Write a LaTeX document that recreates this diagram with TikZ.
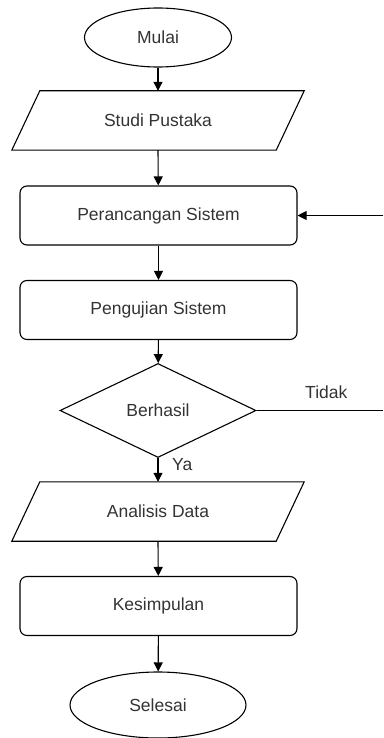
\documentclass[tikz,border=0pt]{standalone}
\usepackage{fontspec}
\setmainfont{Liberation Sans}
\usetikzlibrary{shapes.geometric,arrows.meta,calc}
\definecolor{txt}{HTML}{333333}
\tikzset{
  base/.style={font=\fontsize{17.5}{20}\selectfont, text=txt, inner sep=0pt},
  term/.style={base, draw, line width=1.1pt, ellipse},
  proc/.style={base, draw, line width=1.1pt, rounded corners=7pt, minimum width=277pt, minimum height=59pt},
  io/.style={base, minimum width=292pt, minimum height=59pt},
  dec/.style={base, draw, line width=1.1pt, diamond, aspect=2.085, minimum width=196pt, minimum height=94pt},
  conn/.style={line width=1.1pt, -{Triangle[length=9pt,width=9pt]}},
  plain/.style={line width=1.1pt},
  lbl/.style={font=\fontsize{17.5}{20}\selectfont, text=txt, inner sep=0pt}
}
\newcommand{\iobox}[1]{\draw[line width=1.1pt] ($(#1.north west)+(28,0)$) -- (#1.north east) -- ($(#1.south east)+(-28,0)$) -- (#1.south west) -- cycle;}
\begin{document}
\begin{tikzpicture}[x=1pt,y=-1pt]
\useasboundingbox (0,0) rectangle (383,738);
\node[term, minimum width=147pt, minimum height=59pt] (mulai) at (158,37.5) {Mulai};
\node[io] (studi) at (158,120.5) {Studi Pustaka};
\iobox{studi}
\node[proc] (rancang) at (158.5,215.5) {Perancangan Sistem};
\node[proc] (uji) at (158.5,310) {Pengujian Sistem};
\node[dec] (hasil) at (158,410.5) {Berhasil};
\node[io] (analisis) at (158,511.5) {Analisis Data};
\iobox{analisis}
\node[proc] (simpul) at (158.5,606) {Kesimpulan};
\node[term, minimum width=176pt, minimum height=66pt] (selesai) at (158,705) {Selesai};
\coordinate (tright) at (383,410.5);
\coordinate (rright) at (383,215.5);
\draw[conn] (mulai) -- (studi.north);
\draw[conn] (studi.south) -- (rancang);
\draw[conn] (rancang) -- (uji);
\draw[conn] (uji) -- (hasil);
\draw[conn] (hasil) -- (analisis.north);
\draw[conn] (analisis.south) -- (simpul);
\draw[conn] (simpul) -- (selesai);
\draw[plain] (hasil.east) -- (tright);
\draw[conn] (rright) -- (rancang.east);
\node[lbl, anchor=west] (tidak) at (305,392) {Tidak};
\node[lbl, anchor=west] (ya) at (172,465) {Ya};
\end{tikzpicture}
\end{document}
